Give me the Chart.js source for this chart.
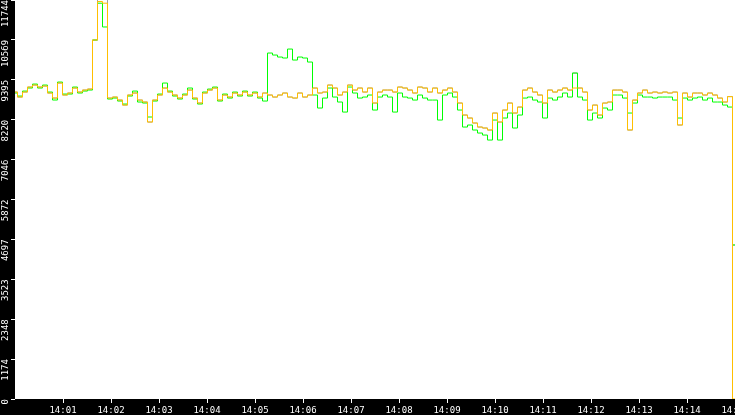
<!DOCTYPE html>
<html lang="en">
<head>
    <meta charset="UTF-8">
    <title>Chart</title>
    <script src="https://cdn.jsdelivr.net/npm/chart.js"></script>
    <style>
        html, body {
            margin: 0;
            padding: 0;
            background: #000;
        }
        .chart-container {
            width: 735px;
            height: 415px;
            position: relative;
        }
    </style>
</head>
<body>
    <div class="chart-container">
        <canvas id="rateChart"></canvas>
    </div>

    <script>
        // samples every 6.25 s, starting 14:00:00
        const sampleStep = 6.25;

        const grayValues = [
            9035, 8888, 9035, 9182, 9241, 9182, 9212, 9006, 8858, 9300,
            8947, 9006, 9153, 9035, 9094, 9123, 10566, 12300, 12300, 8858,
            8888, 8799, 8652, 8947, 9006, 8799, 8741, 8152, 8799, 8947,
            9153, 9035, 8947, 8858, 8947, 9094, 8858, 8711, 9006, 9094,
            9153, 8799, 8947, 8888, 9006, 8947, 9035, 8947, 9006, 8888,
            9006, 8947, 8888, 8947, 9006, 8888, 8858, 9006, 8888, 8947,
            9153, 9006, 9035, 9241, 9153, 8947, 9035, 9241, 9094, 9153,
            9035, 9153, 8711, 9035, 9094, 9094, 9035, 9182, 9153, 9094,
            9006, 9182, 9153, 9035, 9153, 9006, 9094, 9153, 9035, 8711,
            8358, 8270, 8123, 8005, 7976, 7917, 8417, 8152, 8505, 8711,
            8417, 8593, 9094, 9153, 9035, 8947, 8711, 9094, 9035, 9094,
            9153, 9094, 9594, 9153, 9035, 8505, 8652, 8358, 8711, 8741,
            9094, 9094, 9035, 7917, 8799, 9006, 9094, 9006, 9035, 9006,
            9035, 9006, 9035, 8064, 9006, 8888, 9006, 9006, 8947, 9006,
            8947, 8858, 8741, 8900, 4533
        ];

        const greenValues = [
            9006, 8917, 9064, 9153, 9270, 9153, 9241, 9035, 8800, 9329,
            8976, 8976, 9182, 9006, 9064, 9094, 10566, 11650, 10950, 8829,
            8858, 8770, 8682, 8917, 9064, 8741, 8711, 8300, 8770, 8976,
            9300, 9064, 8917, 8829, 8976, 9153, 8829, 8682, 9035, 9123,
            9182, 8770, 8976, 8858, 9035, 8917, 9064, 8917, 9035, 8858,
            8770, 10183, 10124, 10065, 10036, 10300, 9977, 10065, 10036, 9918,
            8947, 8564, 8858, 9153, 8888, 8741, 8446, 9182, 9006, 8858,
            8888, 8947, 8505, 8888, 8947, 8888, 8446, 9006, 8888, 8858,
            8799, 8947, 8858, 8799, 8799, 8211, 8947, 9006, 8888, 8505,
            8005, 8064, 7917, 7828, 7769, 7622, 8211, 7622, 8270, 8417,
            7976, 8358, 8858, 8888, 8799, 8741, 8270, 8858, 8799, 8888,
            9006, 8888, 9594, 8888, 8799, 8211, 8417, 8270, 8564, 8505,
            8947, 8947, 8858, 8417, 8711, 8947, 8888, 8888, 8858, 8888,
            8888, 8888, 8799, 8270, 8858, 8799, 8858, 8888, 8799, 8858,
            8741, 8741, 8652, 8593, 4533
        ];

        const orangeValues = [
            9035, 8888, 9035, 9182, 9241, 9182, 9212, 9006, 8858, 9300,
            8947, 9006, 9153, 9035, 9094, 9123, 10566, 11700, 11650, 8858,
            8888, 8799, 8652, 8947, 9006, 8799, 8741, 8152, 8799, 8947,
            9153, 9035, 8947, 8858, 8947, 9094, 8858, 8711, 9006, 9094,
            9153, 8799, 8947, 8888, 9006, 8947, 9035, 8947, 9006, 8888,
            9006, 8947, 8888, 8947, 9006, 8888, 8858, 9006, 8888, 8947,
            9153, 9006, 9035, 9241, 9153, 8947, 9035, 9241, 9094, 9153,
            9035, 9153, 8711, 9035, 9094, 9094, 9035, 9182, 9153, 9094,
            9006, 9182, 9153, 9035, 9153, 9006, 9094, 9153, 9035, 8711,
            8358, 8270, 8123, 8005, 7976, 7917, 8417, 8152, 8505, 8711,
            8417, 8593, 9094, 9153, 9035, 8947, 8711, 9094, 9035, 9094,
            9153, 9094, 9153, 9153, 9035, 8505, 8652, 8358, 8711, 8741,
            9094, 9094, 9035, 7917, 8799, 9006, 9094, 9006, 9035, 9006,
            9035, 9006, 9035, 8064, 9006, 8888, 9006, 9006, 8947, 9006,
            8947, 8858, 8741, 8900, 0
        ];

        const yTickLabels = ['0', '1174', '2348', '3523', '4697', '5872', '7046', '8220', '9395', '10569', '11744'];
        const xTickLabels = ['14:01', '14:02', '14:03', '14:04', '14:05', '14:06', '14:07', '14:08',
                             '14:09', '14:10', '14:11', '14:12', '14:13', '14:14', '14:15'];

        const toPoints = values => values.map((v, i) => ({ x: i * sampleStep, y: v }));
        const xTickSeconds = xTickLabels.map(l => Number(l.split(':')[1]) * 60);

        // black frame, white plot area
        const frameBackground = {
            id: 'frameBackground',
            beforeDraw(chart) {
                const { ctx, chartArea } = chart;
                ctx.save();
                ctx.fillStyle = '#000';
                ctx.fillRect(0, 0, chart.width, chart.height);
                ctx.fillStyle = '#fff';
                ctx.fillRect(chartArea.left, chartArea.top, chartArea.right - chartArea.left, chartArea.bottom - chartArea.top);
                ctx.restore();
            }
        };

        const tickFont = { family: '"DejaVu Sans Mono", monospace', size: 9 };

        const lineStyle = color => ({
            borderColor: color,
            borderWidth: 1,
            pointRadius: 0,
            stepped: 'middle',
            fill: false
        });

        const ctx = document.getElementById('rateChart').getContext('2d');
        const rateChart = new Chart(ctx, {
            type: 'line',
            data: {
                datasets: [
                    { label: 'orange', data: toPoints(orangeValues), ...lineStyle('#ffbf00'), order: 1 },
                    { label: 'green', data: toPoints(greenValues), ...lineStyle('#00ff00'), order: 2 },
                    { label: 'gray', data: toPoints(grayValues), ...lineStyle('#a0a0a0'), order: 3 }
                ]
            },
            options: {
                responsive: true,
                maintainAspectRatio: false,
                animation: false,
                layout: { padding: 0 },
                plugins: {
                    legend: { display: false },
                    tooltip: { enabled: false }
                },
                scales: {
                    x: {
                        type: 'linear',
                        min: 0,
                        max: 900,
                        border: { display: false },
                        grid: { drawOnChartArea: false, color: '#fff', tickLength: 4 },
                        ticks: {
                            color: '#fff',
                            font: tickFont,
                            padding: 2,
                            autoSkip: false,
                            minRotation: 0,
                            maxRotation: 0,
                            callback: (value) => xTickLabels[xTickSeconds.indexOf(value)]
                        },
                        afterBuildTicks: scale => {
                            scale.ticks = xTickSeconds.map(v => ({ value: v }));
                        },
                        afterFit: scale => {
                            scale.height = 16;
                            scale.paddingLeft = 0;
                            scale.paddingRight = 0;
                        }
                    },
                    y: {
                        min: 0,
                        max: 11744,
                        border: { display: false },
                        grid: { drawOnChartArea: false, color: '#fff', tickLength: 4 },
                        ticks: {
                            color: '#fff',
                            font: tickFont,
                            padding: 5,
                            autoSkip: false,
                            minRotation: 90,
                            maxRotation: 90,
                            callback: (value, index) => yTickLabels[index]
                        },
                        afterBuildTicks: scale => {
                            scale.ticks = yTickLabels.map(l => ({ value: Number(l) }));
                        },
                        afterFit: scale => {
                            scale.width = 15;
                            scale.paddingTop = 0;
                            scale.paddingBottom = 0;
                        }
                    }
                }
            },
            plugins: [frameBackground]
        });
    </script>
</body>
</html>
